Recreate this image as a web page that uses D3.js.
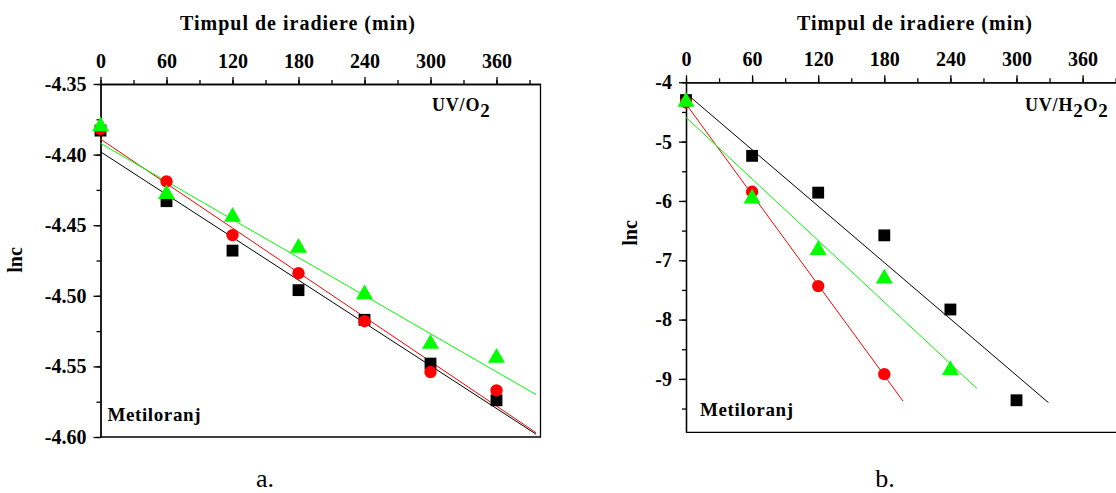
<!DOCTYPE html>
<html>
<head>
<meta charset="utf-8">
<script src="https://cdnjs.cloudflare.com/ajax/libs/d3/7.8.5/d3.min.js"></script>
<style>
body { margin: 0; background: #fff; }
svg { display: block; }
</style>
</head>
<body>
<script>
// time (min)
var timeA = [0, 60, 120, 180, 240, 300, 360];
var timeB = [0, 60, 120, 180, 240, 300];
var xTicks = [0, 60, 120, 180, 240, 300, 360];

// panel a, UV/O2 : lnc
var aBlack = [-4.383, -4.433, -4.468, -4.496, -4.517, -4.548, -4.574];
var aRed   = [-4.382, -4.419, -4.457, -4.484, -4.518, -4.554, -4.567];
var aGreen = [-4.380, -4.428, -4.444, -4.466, -4.499, -4.534, -4.544];
// fitted lines [t0, lnc0, t1, lnc1]
var aFitBlack = [0, -4.398, 396, -4.598];
var aFitRed   = [0, -4.389, 396, -4.597];
var aFitGreen = [0, -4.392, 396, -4.570];
var aYTicks = [-4.35, -4.40, -4.45, -4.50, -4.55, -4.60];

// panel b, UV/H2O2 : lnc
var bBlack = [-4.30, -5.24, -5.86, -6.58, -7.83, -9.36];
var bRed   = [-4.34, -5.845, -7.435, -8.92];
var bGreen = [-4.33, -5.96, -6.83, -7.31, -8.85];
var bFitBlack = [0, -4.186, 329, -9.40];
var bFitRed   = [0, -4.366, 197, -9.375];
var bFitGreen = [0, -4.59, 264, -9.16];
var bYTicks = [-4, -5, -6, -7, -8, -9];

var serif = "'Liberation Serif', 'Times New Roman', 'DejaVu Serif', serif";

var svg = d3.select("body").append("svg")
    .attr("width", 1116)
    .attr("height", 493)
    .style("font-family", serif);

function styleAxis(sel) {
    sel.attr("font-family", null).attr("font-size", null);
    sel.selectAll("text")
        .style("font-family", serif)
        .style("font-weight", "bold")
        .style("font-size", "20px")
        .attr("fill", "#000");
    sel.selectAll("path, line").attr("stroke", "#000").attr("stroke-width", 1.3);
}

function drawPanel(p) {
    var x = d3.scaleLinear().domain([0, 400]).range([p.left, p.left + p.pxPer60 * 400 / 60]);
    var y = d3.scaleLinear().domain(p.yDomain).range([p.bottom, p.top]);
    var g = svg.append("g");

    // frame (bottom + right)
    g.append("path")
        .attr("d", "M" + x(0) + "," + y(p.yDomain[0]) + "H" + x(400) + "V" + y(p.yDomain[1]))
        .attr("fill", "none").attr("stroke", "#000").attr("stroke-width", 1.3);

    // top axis
    g.append("g")
        .attr("transform", "translate(0," + p.top + ")")
        .call(d3.axisTop(x).tickValues(d3.range(0, 400, 30)).tickSize(4).tickSizeOuter(0).tickFormat(""))
        .call(styleAxis);
    g.append("g")
        .attr("transform", "translate(0," + p.top + ")")
        .call(d3.axisTop(x).tickValues(xTicks).tickSize(7).tickSizeOuter(0).tickPadding(9))
        .call(styleAxis);

    // left axis
    g.append("g")
        .attr("transform", "translate(" + p.left + ",0)")
        .call(d3.axisLeft(y).tickValues(p.yMinor).tickSize(4).tickSizeOuter(0).tickFormat(""))
        .call(styleAxis);
    g.append("g")
        .attr("transform", "translate(" + p.left + ",0)")
        .call(d3.axisLeft(y).tickValues(p.yTicks).tickSize(7).tickSizeOuter(0).tickPadding(7)
            .tickFormat(function(d) { return d.toFixed(p.dec); }))
        .call(styleAxis);

    g.append("text")
        .attr("x", p.titleX).attr("y", 30)
        .attr("text-anchor", "middle")
        .style("font-weight", "bold").style("font-size", "20px")
        .style("letter-spacing", "1px")
        .text("Timpul de iradiere (min)");

    g.append("text")
        .attr("transform", "translate(" + p.lncX + "," + p.lncY + ") rotate(-90)")
        .attr("text-anchor", "middle")
        .style("font-weight", "bold").style("font-size", "20px")
        .text("lnc");

    var lab = g.append("text")
        .attr("x", p.labX).attr("y", 111)
        .style("font-weight", "bold").style("font-size", "18px")
        .style("letter-spacing", "0.8px");
    p.label.forEach(function(s) {
        lab.append("tspan").attr("dy", s.sub ? 6 : (s.after ? -6 : 0))
            .style("font-size", s.sub ? "19px" : "18px")
            .text(s.t);
    });

    g.append("text")
        .attr("x", x(0) + p.metDx).attr("y", p.metY)
        .style("font-weight", "bold").style("font-size", "19px")
        .style("letter-spacing", "0.6px")
        .text("Metiloranj");

    g.append("text")
        .attr("x", p.capX).attr("y", 487)
        .attr("text-anchor", "middle")
        .style("font-size", "26px")
        .text(p.caption);

    var plot = g.append("g");

    p.series.forEach(function(s) {
        plot.append("line")
            .attr("x1", x(s.fit[0])).attr("y1", y(s.fit[1]))
            .attr("x2", x(s.fit[2])).attr("y2", y(s.fit[3]))
            .attr("stroke", s.color).attr("stroke-width", 1);
    });

    var sym = { square: d3.symbolSquare, circle: d3.symbolCircle, triangle: d3.symbolTriangle };
    var size = { square: 140, circle: 120, triangle: 125 };
    p.series.forEach(function(s) {
        plot.selectAll(null)
            .data(s.values)
            .enter().append("path")
            .attr("d", d3.symbol().type(sym[s.shape]).size(size[s.shape]))
            .attr("transform", function(d, i) {
                return "translate(" + x(s.time[i]) + "," + y(d) + ")";
            })
            .attr("fill", s.color);
    });
}

drawPanel({
    left: 100.5, top: 84, bottom: 437, pxPer60: 66,
    yDomain: [-4.60, -4.35], yTicks: aYTicks,
    yMinor: d3.range(0, 11).map(function(i) { return -4.60 + i * 0.025; }),
    dec: 2, titleX: 298, lncX: 22, lncY: 260, labX: 432, metDx: 7, metY: 421,
    label: [{t: "UV/O"}, {t: "2", sub: true}],
    capX: 265, caption: "a.",
    series: [
        {time: timeA, values: aBlack, fit: aFitBlack, color: "#000000", shape: "square"},
        {time: timeA, values: aRed, fit: aFitRed, color: "#ff0000", shape: "circle"},
        {time: timeA, values: aGreen, fit: aFitGreen, color: "#00ff00", shape: "triangle"}
    ]
});

drawPanel({
    left: 686, top: 82.3, bottom: 432.3, pxPer60: 66.1,
    yDomain: [-9.9, -4], yTicks: bYTicks,
    yMinor: d3.range(0, 12).map(function(i) { return -9.5 + i * 0.5; }),
    dec: 0, titleX: 915, lncX: 637, lncY: 233, labX: 1025, metDx: 14, metY: 416,
    label: [{t: "UV/H"}, {t: "2", sub: true}, {t: "O", after: true}, {t: "2", sub: true}],
    capX: 885, caption: "b.",
    series: [
        {time: timeB, values: bBlack, fit: bFitBlack, color: "#000000", shape: "square"},
        {time: timeB, values: bRed, fit: bFitRed, color: "#ff0000", shape: "circle"},
        {time: timeB, values: bGreen, fit: bFitGreen, color: "#00ff00", shape: "triangle"}
    ]
});
</script>
</body>
</html>
